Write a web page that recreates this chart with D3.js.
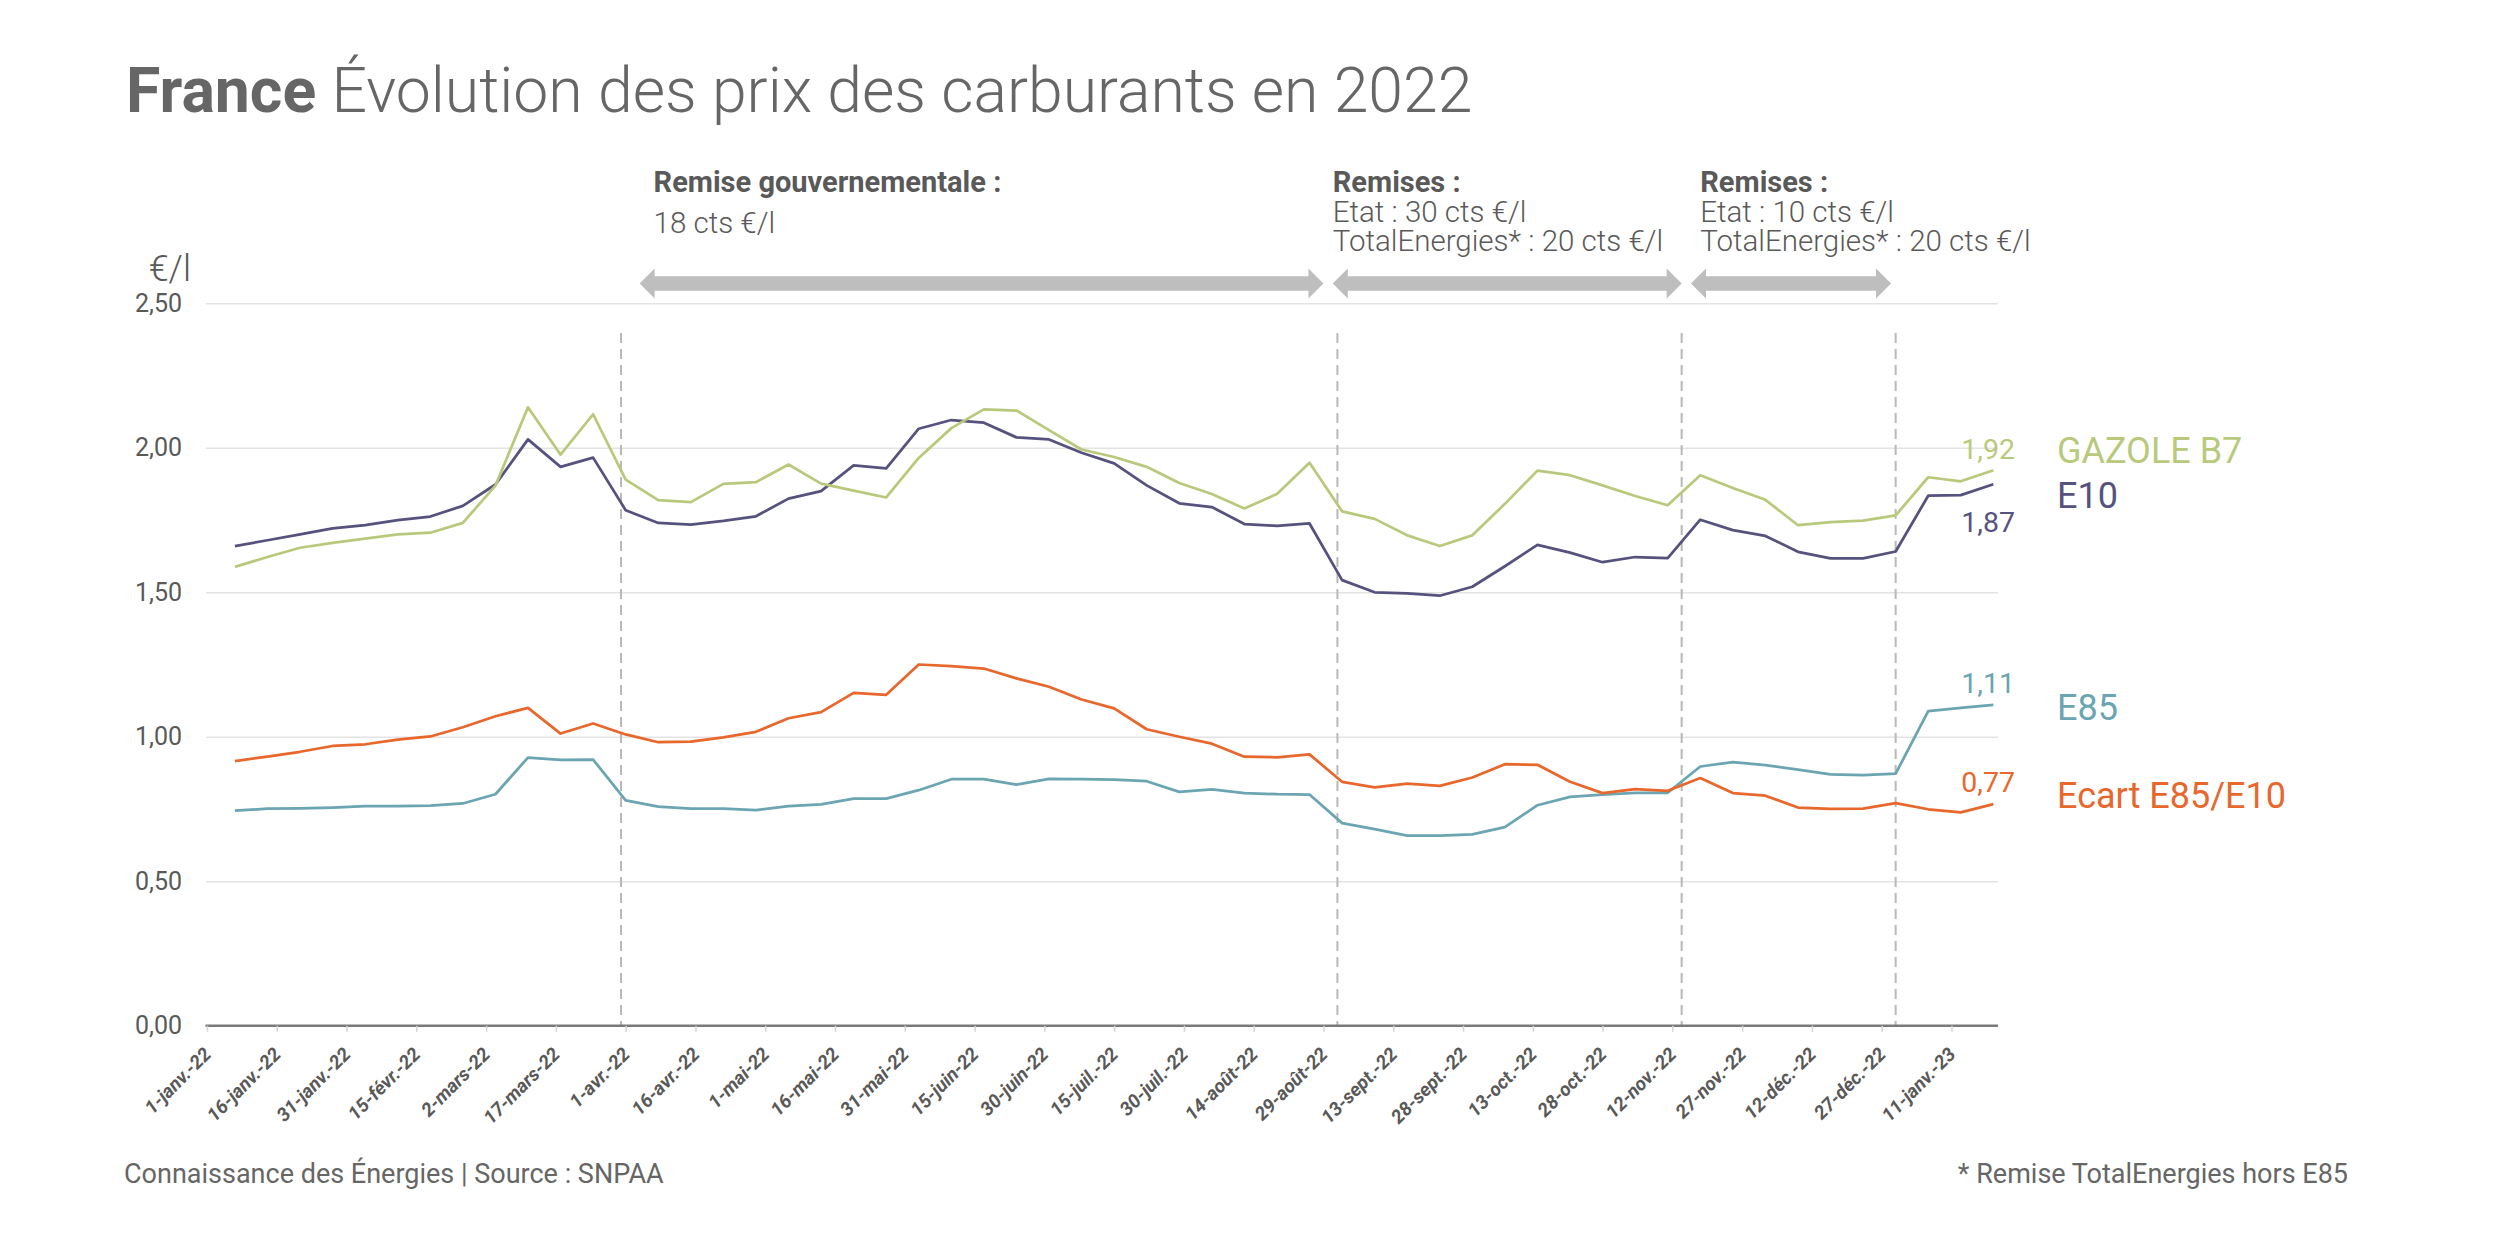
<!DOCTYPE html>
<html>
<head>
<meta charset="utf-8">
<script src="https://cdn.jsdelivr.net/npm/d3@7"></script>
<style>
  body { margin: 0; background: #fff; }
  svg { display: block; font-family: Roboto, "Noto Sans", sans-serif; }
</style>
</head>
<body>
<div id="chart"></div>
<script>
// weekly prices (€/l)
var dates = [
  "2022-01-07","2022-01-14","2022-01-21","2022-01-28","2022-02-04","2022-02-11","2022-02-18","2022-02-25",
  "2022-03-04","2022-03-11","2022-03-18","2022-03-25","2022-04-01","2022-04-08","2022-04-15","2022-04-22",
  "2022-04-29","2022-05-06","2022-05-13","2022-05-20","2022-05-27","2022-06-03","2022-06-10","2022-06-17",
  "2022-06-24","2022-07-01","2022-07-08","2022-07-15","2022-07-22","2022-07-29","2022-08-05","2022-08-12",
  "2022-08-19","2022-08-26","2022-09-02","2022-09-09","2022-09-16","2022-09-23","2022-09-30","2022-10-07",
  "2022-10-14","2022-10-21","2022-10-28","2022-11-04","2022-11-11","2022-11-18","2022-11-25","2022-12-02",
  "2022-12-09","2022-12-16","2022-12-23","2022-12-30","2023-01-06","2023-01-13","2023-01-20"
];

var gazole = [
  1.588,1.622,1.654,1.671,1.686,1.700,1.706,1.740,1.869,2.140,1.976,2.116,1.890,1.819,1.812,1.875,
  1.881,1.942,1.876,1.852,1.828,1.965,2.068,2.133,2.129,2.061,1.994,1.968,1.934,1.878,1.840,1.790,
  1.840,1.948,1.780,1.754,1.697,1.660,1.697,1.806,1.921,1.905,1.870,1.833,1.801,1.905,1.861,1.820,
  1.732,1.743,1.748,1.766,1.898,1.884,1.922
];

var e10 = [
  1.660,1.680,1.700,1.721,1.732,1.750,1.762,1.799,1.873,2.029,1.934,1.966,1.784,1.740,1.734,1.747,
  1.763,1.824,1.850,1.939,1.929,2.066,2.096,2.087,2.036,2.029,1.983,1.946,1.870,1.808,1.795,1.736,
  1.730,1.738,1.542,1.500,1.496,1.488,1.519,1.590,1.664,1.637,1.604,1.622,1.618,1.751,1.715,1.695,
  1.640,1.617,1.617,1.641,1.834,1.836,1.874
];

var e85 = [
  0.744,0.751,0.752,0.755,0.760,0.760,0.762,0.769,0.801,0.928,0.920,0.921,0.780,0.758,0.751,0.751,
  0.746,0.760,0.766,0.786,0.786,0.815,0.853,0.853,0.834,0.854,0.853,0.852,0.846,0.809,0.818,0.805,
  0.801,0.800,0.701,0.680,0.658,0.658,0.662,0.687,0.763,0.792,0.800,0.806,0.806,0.897,0.912,0.902,
  0.886,0.870,0.867,0.872,1.089,1.100,1.110
];

var ecart = [
  0.916,0.931,0.948,0.968,0.974,0.990,1.001,1.033,1.071,1.100,1.011,1.046,1.008,0.981,0.983,0.998,
  1.017,1.064,1.085,1.152,1.145,1.250,1.244,1.236,1.202,1.173,1.129,1.098,1.026,1.000,0.976,0.931,
  0.929,0.939,0.844,0.825,0.838,0.830,0.859,0.905,0.903,0.844,0.805,0.819,0.813,0.857,0.805,0.796,
  0.755,0.750,0.751,0.770,0.749,0.738,0.767
];

var tickDates = [
  "2022-01-01","2022-01-16","2022-01-31","2022-02-15","2022-03-02","2022-03-17","2022-04-01","2022-04-16",
  "2022-05-01","2022-05-16","2022-05-31","2022-06-15","2022-06-30","2022-07-15","2022-07-30","2022-08-14",
  "2022-08-29","2022-09-13","2022-09-28","2022-10-13","2022-10-28","2022-11-12","2022-11-27","2022-12-12",
  "2022-12-27","2023-01-11"
];
var tickLabels = [
  "1-janv.-22","16-janv.-22","31-janv.-22","15-févr.-22","2-mars-22","17-mars-22","1-avr.-22","16-avr.-22",
  "1-mai-22","16-mai-22","31-mai-22","15-juin-22","30-juin-22","15-juil.-22","30-juil.-22","14-août-22",
  "29-août-22","13-sept.-22","28-sept.-22","13-oct.-22","28-oct.-22","12-nov.-22","27-nov.-22","12-déc.-22",
  "27-déc.-22","11-janv.-23"
];
var yTicks = [0, 0.5, 1, 1.5, 2, 2.5];

// discount periods
var breakDates = ["2022-03-31","2022-09-01","2022-11-14","2022-12-30"];
var arrowSpans = [["2022-04-04","2022-08-29"],["2022-08-31","2022-11-14"],["2022-11-16","2022-12-29"]];
var notes = [
  {at: "2022-04-07", lines: ["Remise gouvernementale :", "18 cts €/l"]},
  {at: "2022-08-31", lines: ["Remises :", "Etat : 30 cts €/l", "TotalEnergies* : 20 cts €/l"]},
  {at: "2022-11-18", lines: ["Remises :", "Etat : 10 cts €/l", "TotalEnergies* : 20 cts €/l"]}
];

var W = 2500, H = 1250;
var parse = d3.timeParse("%Y-%m-%d");
var fr = d3.formatLocale({decimal: ",", thousands: " ", grouping: [3], currency: ["", " €"]});
var fmt = fr.format(".2f");

var x = d3.scaleTime()
  .domain([parse("2022-01-01"), parse("2023-01-21")])
  .range([207, 1998]);
var y = d3.scaleLinear().domain([0, 2.5]).range([1025.7, 303.3]);

var series = [
  {name: "E85", values: e85, color: "#6ba5b2", nameDy: 15, valDy: -12},
  {name: "Ecart E85/E10", values: ecart, color: "#e8672c", nameDy: 4, valDy: -12},
  {name: "E10", values: e10, color: "#56527e", nameDy: 24, valDy: 48},
  {name: "GAZOLE B7", values: gazole, color: "#b9c97c", nameDy: -7, valDy: -11}
];

var svg = d3.select("#chart").append("svg")
  .attr("width", W).attr("height", H);
svg.append("rect").attr("width", W).attr("height", H).attr("fill", "#fff");

// title
var title = svg.append("text").attr("x", 126).attr("y", 112)
  .attr("font-size", 62.5).attr("fill", "#666");
title.append("tspan").attr("font-weight", 700).text("France");
title.append("tspan").attr("font-weight", 300).text(" Évolution des prix des carburants en 2022");

// y grid + labels
var yAxis = d3.axisLeft(y).tickValues(yTicks).tickFormat(fmt)
  .tickSize(-(x.range()[1] - x.range()[0] + 1)).tickPadding(24);
var gy = svg.append("g").attr("transform", "translate(206,0)").call(yAxis);
gy.select(".domain").remove();
gy.selectAll(".tick line").attr("stroke", "#e3e3e3").attr("stroke-width", 1.5);
gy.selectAll(".tick text").attr("font-size", 25).attr("fill", "#595959")
  .attr("font-family", "Roboto, sans-serif");

svg.append("text").attr("x", 191).attr("y", 281).attr("text-anchor", "end")
  .attr("font-size", 36).attr("font-weight", 300).attr("fill", "#595959").text("€/l");

// dashed period breaks
svg.append("g").selectAll("line").data(breakDates).enter().append("line")
  .attr("x1", function(d) { return x(parse(d)); })
  .attr("x2", function(d) { return x(parse(d)); })
  .attr("y1", 333).attr("y2", y(0))
  .attr("stroke", "#b8b8b8").attr("stroke-width", 2).attr("stroke-dasharray", "10,6");

// double arrows
function arrowPath(a, b) {
  var cy = 283.5, sh = 7.3, hh = 15, hl = 15;
  return "M" + a + "," + cy +
    "L" + (a + hl) + "," + (cy - hh) + "L" + (a + hl) + "," + (cy - sh) +
    "L" + (b - hl) + "," + (cy - sh) + "L" + (b - hl) + "," + (cy - hh) +
    "L" + b + "," + cy +
    "L" + (b - hl) + "," + (cy + hh) + "L" + (b - hl) + "," + (cy + sh) +
    "L" + (a + hl) + "," + (cy + sh) + "L" + (a + hl) + "," + (cy + hh) + "Z";
}
svg.append("g").selectAll("path").data(arrowSpans).enter().append("path")
  .attr("d", function(d) { return arrowPath(x(parse(d[0])), x(parse(d[1]))); })
  .attr("fill", "#bebebe");

// notes
var lineY = [[192, 233], [192, 222, 251], [192, 222, 251]];
notes.forEach(function(n, i) {
  var t = svg.append("text").attr("fill", "#595959");
  n.lines.forEach(function(l, j) {
    t.append("tspan").attr("x", x(parse(n.at))).attr("y", lineY[i][j])
      .attr("font-size", j === 0 ? 29 : 29.5)
      .attr("font-weight", j === 0 ? 700 : 300).text(l);
  });
});

// x axis
var xAxis = d3.axisBottom(x).tickValues(tickDates.map(parse))
  .tickFormat(function(d, i) { return tickLabels[i]; })
  .tickSizeInner(6).tickSizeOuter(0).tickPadding(0);
var gx = svg.append("g").attr("transform", "translate(0," + y(0) + ")").call(xAxis);
gx.select(".domain").attr("stroke", "#7a7a7a").attr("stroke-width", 2.5)
  .attr("d", "M" + (x.range()[0] - 1.5) + ",0H" + x.range()[1]);
gx.selectAll(".tick line").attr("stroke", "#d4d4d4").attr("stroke-width", 1.5);
gx.selectAll(".tick text")
  .attr("font-size", 19).attr("font-weight", 700).attr("font-style", "italic")
  .attr("fill", "#595959").attr("font-family", "Roboto, sans-serif")
  .attr("text-anchor", "end").attr("y", 0).attr("dy", "0.35em")
  .attr("transform", "translate(0,25) rotate(-45)");

// lines
var line = d3.line()
  .x(function(d, i) { return x(parse(dates[i])); })
  .y(function(d) { return y(d); });

svg.append("g").selectAll("path").data(series).enter().append("path")
  .attr("d", function(s) { return line(s.values); })
  .attr("fill", "none")
  .attr("stroke", function(s) { return s.color; })
  .attr("stroke-width", 2.75)
  .attr("stroke-linejoin", "round");

// end labels
var last = dates.length - 1;
var lab = svg.append("g").selectAll("g").data(series).enter().append("g");
lab.append("text")
  .attr("x", 2015)
  .attr("y", function(s) { return y(s.values[last]) + s.valDy; })
  .attr("text-anchor", "end").attr("font-size", 28.5)
  .attr("fill", function(s) { return s.color; })
  .text(function(s) { return fmt(s.values[last]); });
lab.append("text")
  .attr("x", 2057)
  .attr("y", function(s) { return y(s.values[last]) + s.nameDy; })
  .attr("font-size", 36)
  .attr("fill", function(s) { return s.color; })
  .text(function(s) { return s.name; });

// footer
svg.append("text").attr("x", 124).attr("y", 1183).attr("font-size", 27)
  .attr("fill", "#666").text("Connaissance des Énergies | Source : SNPAA");
svg.append("text").attr("x", 2348).attr("y", 1183).attr("font-size", 27)
  .attr("text-anchor", "end").attr("fill", "#666").text("* Remise TotalEnergies hors E85");
</script>
</body>
</html>
